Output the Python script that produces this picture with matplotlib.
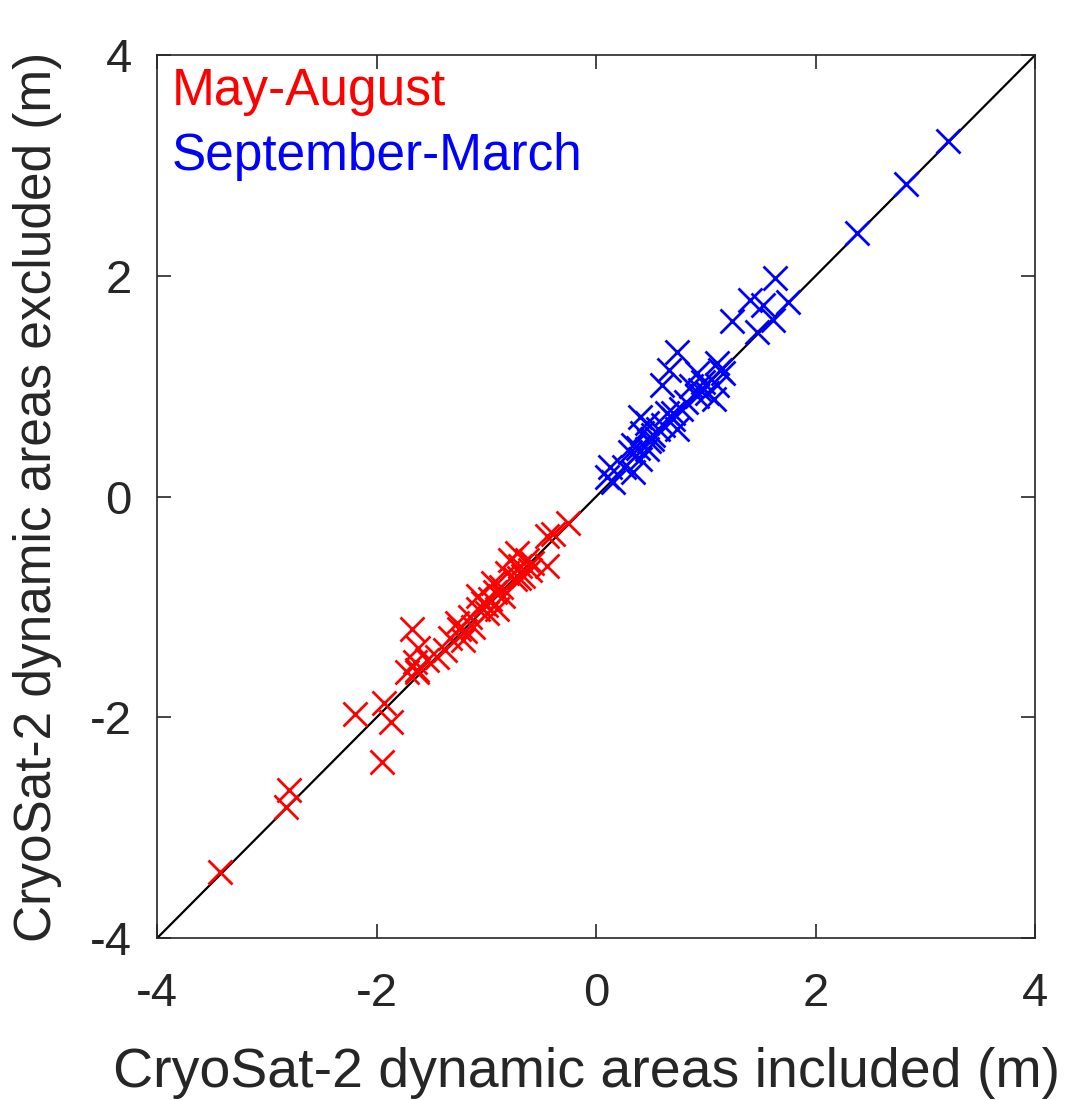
import matplotlib
matplotlib.use("Agg")
import matplotlib.pyplot as plt

plt.rcParams['font.family'] = ['Liberation Sans', 'DejaVu Sans']

red_x = [-3.43, -2.80, -2.82, -2.20, -1.93, -1.87, -1.95, -1.72, -1.63,
         -1.68, -1.62, -1.65, -1.54, -1.63, -1.45, -1.38, -1.27, -1.21, -1.19,
         -1.15, -1.08, -1.12, -1.03, -0.99, -0.97, -0.94, -0.90, -0.87, -0.81,
         -0.78, -0.72, -0.69, -0.67, -0.74, -0.63, -0.60, -0.45, -0.45, -0.39,
         -0.26, -0.85, -1.08, -1.25, -1.00, -0.70, -0.58, -1.33, -0.92]
red_y = [-3.40, -2.66, -2.81, -1.97, -1.87, -2.04, -2.40, -1.59, -1.57,
         -1.20, -1.37, -1.50, -1.48, -1.59, -1.45, -1.39, -1.14, -1.30, -1.22,
         -1.09, -1.02, -1.18, -0.96, -1.05, -0.93, -0.78, -1.02, -0.82, -0.69,
         -0.57, -0.51, -0.63, -0.72, -0.75, -0.57, -0.66, -0.63, -0.36, -0.34,
         -0.24, -0.90, -0.90, -1.20, -0.98, -0.74, -0.60, -1.28, -0.86]

blue_x = [3.21, 2.82, 2.38, 1.63, 1.40, 1.52, 1.75, 1.24, 1.61, 1.47,
          0.74, 0.66, 0.60, 1.10, 1.13, 0.92, 0.86, 0.95, 1.10, 1.07,
          0.92, 1.01, 0.77, 0.70, 0.74, 0.65, 0.61, 0.46, 0.40, 0.42,
          0.51, 0.34, 0.31, 0.46, 0.40, 0.25, 0.34, 0.13, 0.10, 0.15,
          0.56, 1.16, 0.82, 0.52, 0.38, 0.97, 0.70, 0.48]
blue_y = [3.22, 2.83, 2.39, 1.98, 1.78, 1.74, 1.76, 1.59, 1.60, 1.49,
          1.31, 1.15, 1.01, 1.21, 1.15, 1.12, 1.00, 0.97, 1.01, 0.88,
          0.91, 0.94, 0.79, 0.70, 0.61, 0.76, 0.65, 0.67, 0.72, 0.58,
          0.52, 0.47, 0.40, 0.43, 0.34, 0.27, 0.22, 0.27, 0.18, 0.13,
          0.61, 1.12, 0.86, 0.56, 0.44, 1.04, 0.76, 0.50]

ticks = [-4, -2, 0, 2, 4]
tick_labels = ['-4', '-2', '0', '2', '4']
dark = '#262626'

fig = plt.figure(figsize=(10.75, 11), dpi=100)
ax = fig.add_axes([0.146, 0.147, 0.817, 0.803])

ax.plot([-4, 4], [-4, 4], color='black', lw=1.6, zorder=1)
ax.plot(red_x, red_y, 'x', color='#ff0000', ms=17, mew=2, zorder=2, linestyle='none')
ax.plot(blue_x, blue_y, 'x', color='#0000ff', ms=17, mew=2, zorder=2, linestyle='none')

ax.set_xlim(-4, 4)
ax.set_ylim(-4, 4)
ax.set_xticks(ticks)
ax.set_yticks(ticks)
ax.set_xticklabels(tick_labels)
ax.set_yticklabels(tick_labels)
ax.tick_params(direction='in', length=10, width=1.2, labelsize=34,
               top=True, right=True, colors=dark)
ax.tick_params(axis='x', pad=24)
ax.tick_params(axis='y', pad=18)
for s in ax.spines.values():
    s.set_linewidth(1.2)
    s.set_color(dark)

fig.text(0.546, 1 - 1087 / 1100, 'CryoSat-2 dynamic areas included (m)',
         fontsize=40, color=dark, ha='center', va='baseline')
fig.text(0.012, 0.548, 'CryoSat-2 dynamic areas excluded (m)',
         fontsize=37, color=dark, ha='left', va='center', rotation=90)

fig.text(0.160, 1 - 105 / 1100, 'May-August', color='#ff0000', fontsize=37,
         ha='left', va='baseline')
fig.text(0.160, 1 - 170 / 1100, 'September-March', color='#0000ff', fontsize=37,
         ha='left', va='baseline')

fig.savefig('out.png', dpi=100)
